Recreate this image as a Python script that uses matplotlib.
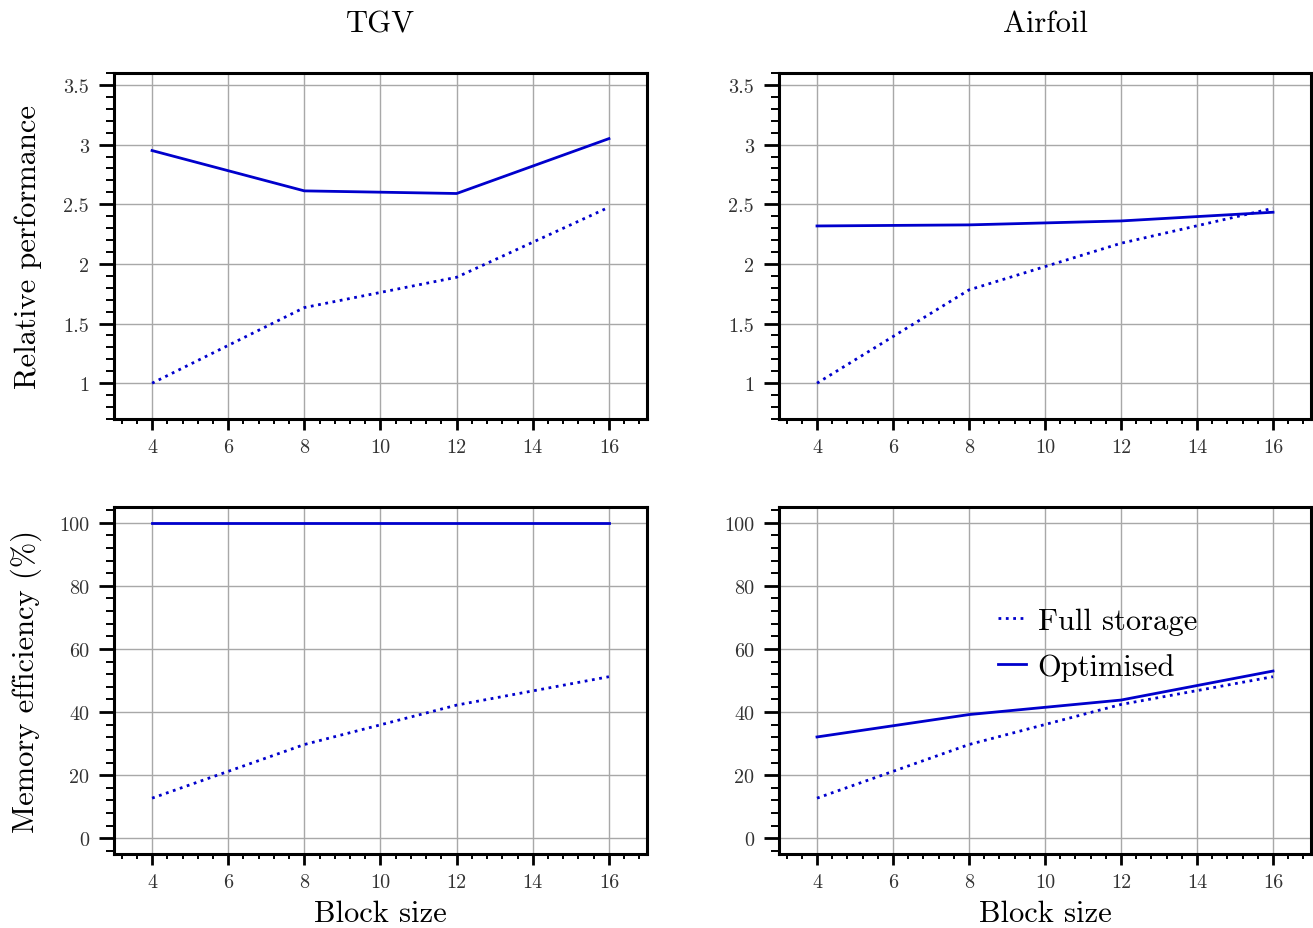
import matplotlib
matplotlib.use("Agg")
import matplotlib.pyplot as plt
from matplotlib.ticker import MultipleLocator, FuncFormatter

plt.rcParams["font.family"] = "cmr10"
plt.rcParams["mathtext.fontset"] = "cm"
plt.rcParams["axes.formatter.use_mathtext"] = True

# Data
block_sizes = [4, 8, 12, 16]

tgv_perf_full = [1.0, 1.634, 1.888, 2.475]
tgv_perf_opt = [2.95, 2.612, 2.59, 3.05]
airfoil_perf_full = [1.0, 1.782, 2.173, 2.466]
airfoil_perf_opt = [2.318, 2.327, 2.36, 2.433]

tgv_mem_full = [12.7, 29.7, 42.2, 51.2]
tgv_mem_opt = [100.0, 100.0, 100.0, 100.0]
airfoil_mem_full = [12.7, 29.7, 42.4, 51.2]
airfoil_mem_opt = [32.1, 39.2, 43.8, 53.0]

case_titles = ["TGV", "Airfoil"]
series_labels = ["Full storage", "Optimised"]

line_color = "#0000CC"

fig = plt.figure(figsize=(13.13, 9.29), dpi=100)
W, H = 1313, 929
boxes = [
    [(114, 74, 647, 420), (779, 74, 1311, 420)],
    [(114, 508, 647, 855), (779, 508, 1311, 855)],
]


def add_axes(box):
    x0, y0, x1, y1 = box
    return fig.add_axes([x0 / W, 1 - y1 / H, (x1 - x0) / W, (y1 - y0) / H])


fmt = FuncFormatter(lambda v, p: f"{v:g}")

perf = [(tgv_perf_full, tgv_perf_opt), (airfoil_perf_full, airfoil_perf_opt)]
mem = [(tgv_mem_full, tgv_mem_opt), (airfoil_mem_full, airfoil_mem_opt)]

axes = [[None, None], [None, None]]
for r in range(2):
    for c in range(2):
        ax = add_axes(boxes[r][c])
        axes[r][c] = ax
        full, opt = (perf if r == 0 else mem)[c]
        ax.plot(block_sizes, full, linestyle=":", color=line_color, lw=2.0,
                label=series_labels[0], zorder=3)
        ax.plot(block_sizes, opt, linestyle="-", color=line_color, lw=2.0,
                label=series_labels[1], zorder=3)
        ax.set_xlim(3, 17)
        ax.xaxis.set_major_locator(MultipleLocator(2))
        ax.xaxis.set_minor_locator(MultipleLocator(0.4))
        if r == 0:
            ax.set_ylim(0.7, 3.6)
            ax.yaxis.set_major_locator(MultipleLocator(0.5))
            ax.yaxis.set_minor_locator(MultipleLocator(0.1))
        else:
            ax.set_ylim(-5, 105)
            ax.yaxis.set_major_locator(MultipleLocator(20))
            ax.yaxis.set_minor_locator(MultipleLocator(4))
        ax.xaxis.set_major_formatter(fmt)
        ax.yaxis.set_major_formatter(fmt)
        ax.grid(True, which="major", color="#a8a8a8", lw=1.0, zorder=0)
        for s in ax.spines.values():
            s.set_linewidth(2.2)
        ax.tick_params(axis="both", which="major", labelsize=14.5, direction="out",
                       width=2.0, colors="black", labelcolor="#333333")
        ax.tick_params(axis="y", which="major", length=11, pad=7)
        ax.tick_params(axis="y", which="minor", length=5.5, width=1.4)
        ax.tick_params(axis="x", which="major", length=8, pad=6)
        ax.tick_params(axis="x", which="minor", length=3.8, width=1.4)
        if r == 0:
            ax.set_title(case_titles[c], fontsize=22, pad=30)
        else:
            ax.set_xlabel("Block size", fontsize=22, labelpad=6)

axes[0][0].set_ylabel("Relative performance", fontsize=22)
axes[1][0].set_ylabel("Memory efficiency (%)", fontsize=22)
for ax in (axes[0][0], axes[1][0]):
    ax.yaxis.set_label_coords(-0.135, 0.5)

axes[1][1].legend(loc="center left", bbox_to_anchor=(0.36, 0.605), frameon=False,
                  fontsize=22, handlelength=0.9, handletextpad=0.4,
                  labelspacing=0.6)

fig.savefig("out.png", dpi=100)
